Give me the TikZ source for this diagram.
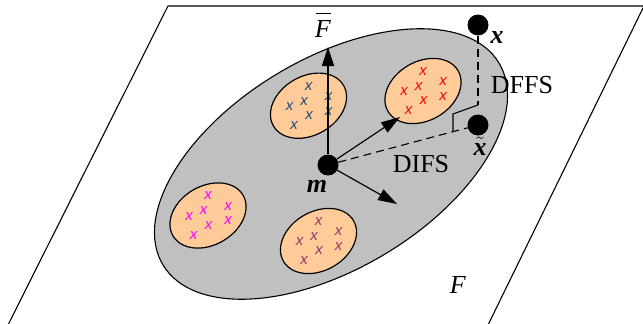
\documentclass[tikz,border=0pt]{standalone}
\usepackage{fontspec}
\setmainfont{Liberation Serif}
\newfontfamily\xfont{Liberation Sans}
\usetikzlibrary{arrows.meta,shapes.geometric,calc}
\definecolor{bggray}{RGB}{192,192,192}
\definecolor{peach}{RGB}{255,204,153}
\definecolor{xblue}{RGB}{31,73,125}
\definecolor{xred}{RGB}{255,0,0}
\definecolor{xmag}{RGB}{255,0,255}
\definecolor{xpur}{RGB}{153,51,102}
\tikzset{
  plane/.style={line width=1.1pt},
  bigell/.style={ellipse, draw=black, fill=bggray, line width=1.1pt, minimum width=392pt, minimum height=210pt, inner sep=0pt, rotate=31},
  clust/.style={ellipse, draw=black, fill=peach, line width=1.2pt, minimum width=81pt, minimum height=59pt, inner sep=0pt, rotate=30},
  xmark/.style={font=\xfont\itshape\fontsize{15}{15}\selectfont, inner sep=0pt},
  dot/.style={circle, fill=black, inner sep=0pt, minimum size=21pt},
  lbl/.style={font=\fontsize{26}{28}\selectfont, inner sep=0pt},
  vec/.style={line width=1.2pt, -{Triangle[length=19pt,width=12pt]}},
  dsh/.style={line width=1.1pt, dash pattern=on 8pt off 5pt},
  rightmark/.style={line width=1.1pt}
}
\newcommand{\mycluster}[3]{%
  \node[clust] (#1) at #2 {};
  \foreach \dx/\dy [count=\i] in {0/-19.5, -19/1, -4.5/-4.5, 20/-9, 20/5.5, 0.5/10, -14.5/20}
    \node[xmark, text=#3] (#1-\i) at ($#2+(\dx,\dy)$) {x};
}
\begin{document}
\begin{tikzpicture}[x=1pt,y=-1pt]
\useasboundingbox (0,0) rectangle (643,324);
\begin{scope}
\clip (0,0) rectangle (643,324);
\draw[plane] (8.5,324) -- (168,6) -- (644,6) -- (488.5,324);
\end{scope}
\node[bigell] (cloud) at (331,164) {};
\mycluster{blue}{(308.5,105.7)}{xblue}
\mycluster{red}{(423,91)}{xred}
\mycluster{mag}{(208,215.5)}{xmag}
\mycluster{pur}{(318.5,241)}{xpur}

\coordinate (ftip) at (328,47);
\coordinate (a2) at (400,117);
\coordinate (a3) at (397,204);
\node[lbl, anchor=base] (lxt) at (480,155) {$\tilde{\mbox{\textbf{\textit{x}}}}$};

\node[dot] (m) at (328,165) {};
\node[dot] (x) at (478,25) {};
\node[dot] (xt) at (478,125) {};

\draw[vec] (m) -- (ftip);
\draw[vec] (m) -- (a2);
\draw[vec] (m) -- (a3);

\draw[dsh] (m) -- (xt);
\coordinate (c1) at (478,105);
\coordinate (c2) at (453,114);
\coordinate (c3) at (453,131.5);
\draw[dsh] (x) -- (c1);
\draw[rightmark] (c1) -- (c2) -- (c3);

\node[lbl] (lm) at (317,186) {\textbf{\textit{m}}};
\node[lbl] (lx) at (497,38) {\textbf{\textit{x}}};
\node[lbl] (lFb) at (323,25) {\vbox{\offinterlineskip\hbox to 20pt{\hss\rule{15pt}{1.1pt}\hss}\kern6pt\hbox to 20pt{\hss\textit{F}\hss}}};
\node[lbl] (lF) at (458,285) {\textit{F}};
\node[lbl] (ldffs) at (522,85) {DFFS};
\node[lbl] (ldifs) at (421,164) {DIFS};
\end{tikzpicture}
\end{document}
